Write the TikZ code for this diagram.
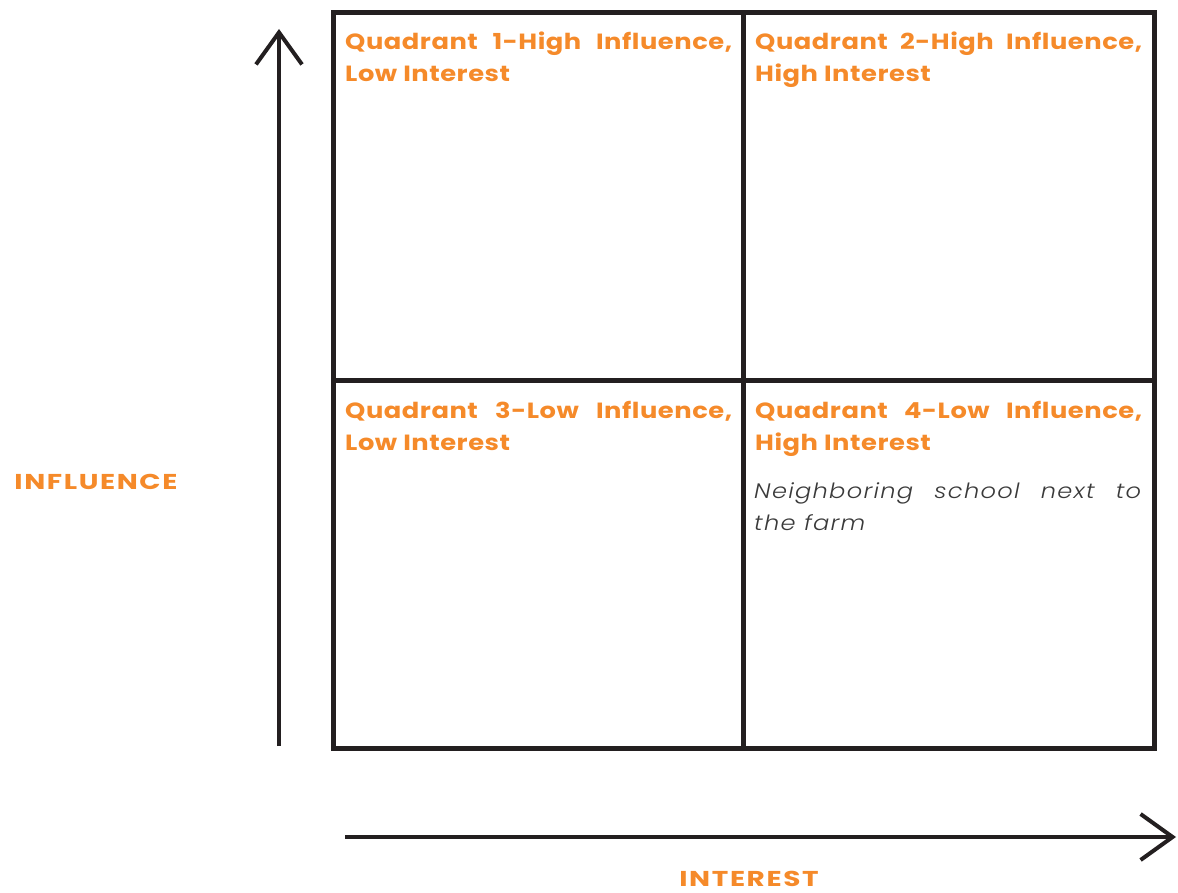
\documentclass[tikz,border=0pt]{standalone}
\usepackage{fontspec}
\setmainfont{Poppins}
\newfontfamily\titlefont{Poppins}[FakeStretch=1.17,LetterSpace=2.5]
\newfontfamily\axisfont{Poppins}[FakeStretch=1.3,LetterSpace=7.5]
\newfontfamily\notefont{Poppins}[UprightFont=* Light,ItalicFont=* Light Italic,FakeStretch=1.15,LetterSpace=6]
\usetikzlibrary{arrows.meta}
\definecolor{frameblack}{HTML}{231F20}
\definecolor{labelorange}{HTML}{F58A2A}
\definecolor{notegray}{HTML}{3A3A3A}
\begin{document}
\begin{tikzpicture}[x=1pt,y=-1pt,
  frame/.style={draw=frameblack,line width=5pt},
  axis/.style={draw=frameblack,line width=4pt,
    -{Straight Barb[length=32pt,width=46pt,line width=4pt]}},
  qtitle/.style={anchor=base west,inner sep=0pt,text=labelorange,
    font=\titlefont\fontsize{22}{32}\selectfont\bfseries},
  qnote/.style={anchor=base west,inner sep=0pt,text=notegray,
    font=\notefont\fontsize{21}{32}\selectfont\itshape},
  axislabel/.style={anchor=base,inner sep=0pt,text=labelorange,
    font=\axisfont\fontsize{21.5}{24}\selectfont\bfseries}]
\useasboundingbox (0,0) rectangle (1178,893);
% quadrant grid
\coordinate (nw) at (333,12.5);
\coordinate (se) at (1154,748);
\coordinate (ntop) at (743,12.5);
\coordinate (sbot) at (743,748);
\coordinate (wmid) at (333,380);
\coordinate (emid) at (1154,380);
\draw[frame] (nw) rectangle (se);
\draw[frame] (ntop) -- (sbot);
\draw[frame] (wmid) -- (emid);
% axes
\coordinate (yfoot) at (279,746);
\coordinate (ytip) at (279,29);
\coordinate (xfoot) at (345,837);
\coordinate (xtip) at (1176,837);
\draw[axis] (yfoot) -- (ytip);
\draw[axis] (xfoot) -- (xtip);
% quadrant titles
\node[qtitle] (q1) at (345,50) {\parbox[t]{387pt}{Quadrant 1-High Influence,\linebreak Low Interest}};
\node[qtitle] (q2) at (755,50) {\parbox[t]{387pt}{Quadrant 2-High Influence,\linebreak High Interest}};
\node[qtitle] (q3) at (345,418) {\parbox[t]{387pt}{Quadrant 3-Low Influence,\linebreak Low Interest}};
\node[qtitle] (q4) at (755,418) {\parbox[t]{387pt}{Quadrant 4-Low Influence,\linebreak High Interest}};
\node[qnote] (n4) at (754,498) {\parbox[t]{387pt}{Neighboring school next to\linebreak the farm}};
% axis labels
\node[axislabel] (ylab) at (96,489) {INFLUENCE};
\node[axislabel] (xlab) at (749,886) {INTEREST};
\end{tikzpicture}
\end{document}
